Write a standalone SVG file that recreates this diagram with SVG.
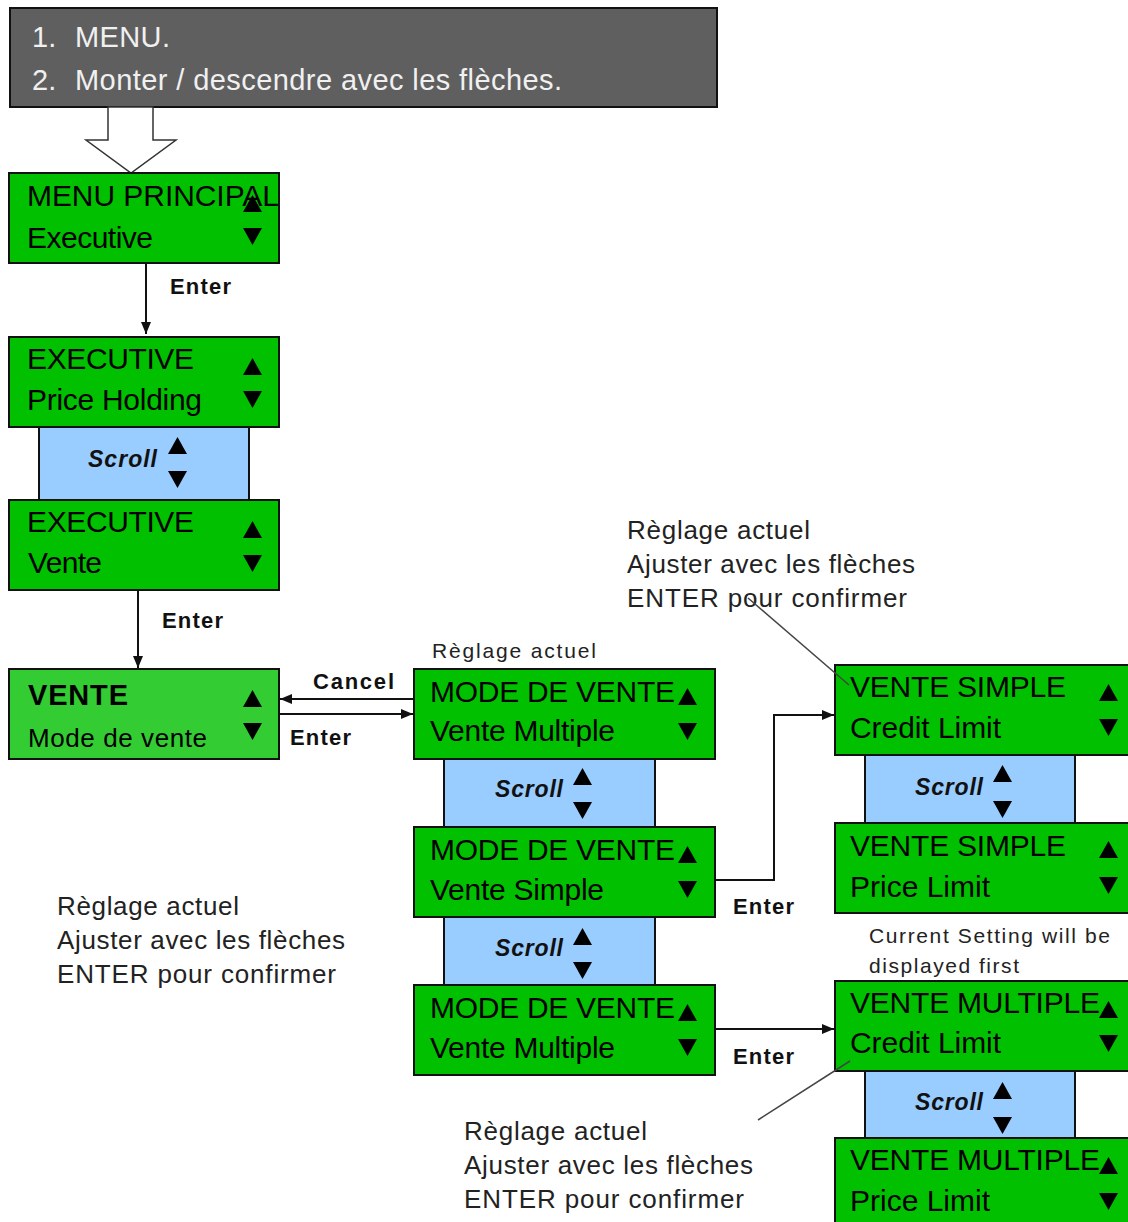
<svg xmlns="http://www.w3.org/2000/svg" width="1128" height="1222" viewBox="0 0 1128 1222">
<style>
.box{fill:#00c000;stroke:#111;stroke-width:2}
.boxl{fill:#33cc33;stroke:#111;stroke-width:2}
.scr{fill:#99ccff;stroke:#111;stroke-width:2}
.hdr{fill:#5f5f5f;stroke:#111;stroke-width:2}
.t{font-family:"Liberation Sans",Arial,sans-serif;font-size:30px;fill:#000}
.tm{font-family:"Liberation Sans",Arial,sans-serif;font-size:26px;fill:#000}
.tb{font-family:"Liberation Sans",Arial,sans-serif;font-size:29px;font-weight:bold;fill:#000}
.h{font-family:"Liberation Sans",Arial,sans-serif;font-size:29px;fill:#f0f0f0}
.s{font-family:"Liberation Sans",Arial,sans-serif;font-size:23px;font-weight:bold;font-style:italic;fill:#111}
.lbl{font-family:"Liberation Sans",Arial,sans-serif;font-size:22px;font-weight:bold;fill:#111}
.ann{font-family:"Liberation Sans",Arial,sans-serif;font-size:26px;fill:#222}
.sm{font-family:"Liberation Sans",Arial,sans-serif;font-size:21px;fill:#222}
.ln{fill:none;stroke:#111;stroke-width:2}
.ptr{fill:none;stroke:#444;stroke-width:1.5}
.tri{fill:#000}
</style>
<defs>
<path id="tu" class="tri" d="M0,17 L9.5,0 L19,17 Z"/>
<path id="td" class="tri" d="M0,0 L19,0 L9.5,17 Z"/>
<marker id="ah" viewBox="0 0 12 10" refX="12" refY="5" markerWidth="12" markerHeight="10" markerUnits="userSpaceOnUse" orient="auto">
<path d="M0,0 L12,5 L0,10 Z" fill="#111"/>
</marker>
</defs>

<g id="header">
<rect class="hdr" x="10" y="8" width="707" height="99"/>
<text class="h" x="32" y="47">1.</text>
<text class="h" x="75" y="47" textLength="95">MENU.</text>
<text class="h" x="32" y="90">2.</text>
<text class="h" x="75" y="90" textLength="487">Monter / descendre avec les flèches.</text>
<polygon points="108,107 108,140 86,140 131,173 176,140 153,140 153,107" fill="#fff" stroke="#333" stroke-width="1.5"/>
</g>

<g id="menu-principal">
<rect class="box" x="9" y="173" width="270" height="90"/>
<text class="t" x="27" y="206" textLength="252">MENU PRINCIPAL</text>
<text class="t" x="27" y="248" textLength="126">Executive</text>
<use href="#tu" x="243" y="195"/>
<use href="#td" x="243" y="228"/>
</g>

<g id="scroll-exec">
<rect class="scr" x="39" y="427" width="210" height="73"/>
<text class="s" x="88" y="467" textLength="69">Scroll</text>
<use href="#tu" x="168" y="437"/>
<use href="#td" x="168" y="471"/>
</g>

<g id="exec-price">
<rect class="box" x="9" y="337" width="270" height="90"/>
<text class="t" x="27" y="369" textLength="167">EXECUTIVE</text>
<text class="t" x="27" y="410" textLength="175">Price Holding</text>
<use href="#tu" x="243" y="358"/>
<use href="#td" x="243" y="391"/>
</g>

<g id="exec-vente">
<rect class="box" x="9" y="500" width="270" height="90"/>
<text class="t" x="27" y="532" textLength="167">EXECUTIVE</text>
<text class="t" x="28" y="573" textLength="74">Vente</text>
<use href="#tu" x="243" y="521"/>
<use href="#td" x="243" y="555"/>
</g>

<g id="vente">
<rect class="boxl" x="9" y="669" width="270" height="90"/>
<text class="tb" x="28" y="705" textLength="100">VENTE</text>
<text class="tm" x="28" y="747" textLength="179">Mode de vente</text>
<use href="#tu" x="243" y="690"/>
<use href="#td" x="243" y="723"/>
</g>

<g id="scroll-mode-1">
<rect class="scr" x="444" y="759" width="211" height="68"/>
<text class="s" x="495" y="797" textLength="68">Scroll</text>
<use href="#tu" x="573" y="768"/>
<use href="#td" x="573" y="802"/>
</g>
<g id="scroll-mode-2">
<rect class="scr" x="444" y="917" width="211" height="68"/>
<text class="s" x="495" y="956" textLength="68">Scroll</text>
<use href="#tu" x="573" y="928"/>
<use href="#td" x="573" y="962"/>
</g>

<g id="mode-1">
<rect class="box" x="414" y="669" width="301" height="90"/>
<text class="t" x="430" y="702" textLength="245">MODE DE VENTE</text>
<text class="t" x="430" y="741" textLength="185">Vente Multiple</text>
<use href="#tu" x="678" y="688"/>
<use href="#td" x="678" y="723"/>
</g>
<g id="mode-2">
<rect class="box" x="414" y="827" width="301" height="90"/>
<text class="t" x="430" y="860" textLength="245">MODE DE VENTE</text>
<text class="t" x="430" y="900" textLength="174">Vente Simple</text>
<use href="#tu" x="678" y="846"/>
<use href="#td" x="678" y="881"/>
</g>
<g id="mode-3">
<rect class="box" x="414" y="985" width="301" height="90"/>
<text class="t" x="430" y="1018" textLength="245">MODE DE VENTE</text>
<text class="t" x="430" y="1058" textLength="185">Vente Multiple</text>
<use href="#tu" x="678" y="1004"/>
<use href="#td" x="678" y="1039"/>
</g>

<g id="scroll-simple">
<rect class="scr" x="865" y="755" width="210" height="68"/>
<text class="s" x="915" y="795" textLength="68">Scroll</text>
<use href="#tu" x="993" y="765"/>
<use href="#td" x="993" y="801"/>
</g>
<g id="scroll-multiple">
<rect class="scr" x="865" y="1071" width="210" height="67"/>
<text class="s" x="915" y="1110" textLength="68">Scroll</text>
<use href="#tu" x="993" y="1082"/>
<use href="#td" x="993" y="1117"/>
</g>

<g id="simple-credit">
<rect class="box" x="835" y="665" width="301" height="90"/>
<text class="t" x="850" y="697" textLength="216">VENTE SIMPLE</text>
<text class="t" x="850" y="738" textLength="151">Credit Limit</text>
<use href="#tu" x="1099" y="684"/>
<use href="#td" x="1099" y="719"/>
</g>
<g id="simple-price">
<rect class="box" x="835" y="823" width="301" height="90"/>
<text class="t" x="850" y="856" textLength="216">VENTE SIMPLE</text>
<text class="t" x="850" y="897" textLength="140">Price Limit</text>
<use href="#tu" x="1099" y="841"/>
<use href="#td" x="1099" y="877"/>
</g>
<g id="multiple-credit">
<rect class="box" x="835" y="981" width="301" height="90"/>
<text class="t" x="850" y="1013" textLength="250">VENTE MULTIPLE</text>
<text class="t" x="850" y="1053" textLength="151">Credit Limit</text>
<use href="#tu" x="1099" y="1001"/>
<use href="#td" x="1099" y="1035"/>
</g>
<g id="multiple-price">
<rect class="box" x="835" y="1138" width="301" height="90"/>
<text class="t" x="850" y="1170" textLength="250">VENTE MULTIPLE</text>
<text class="t" x="850" y="1211" textLength="140">Price Limit</text>
<use href="#tu" x="1099" y="1157"/>
<use href="#td" x="1099" y="1193"/>
</g>

<g id="notes">
<text class="sm" x="432" y="658" textLength="164">Règlage actuel</text>
<text class="ann" x="627" y="539" textLength="183">Règlage actuel</text>
<text class="ann" x="627" y="573" textLength="288">Ajuster avec les flèches</text>
<text class="ann" x="627" y="607" textLength="280">ENTER pour confirmer</text>
<text class="ann" x="57" y="915" textLength="182">Règlage actuel</text>
<text class="ann" x="57" y="949" textLength="288">Ajuster avec les flèches</text>
<text class="ann" x="57" y="983" textLength="279">ENTER pour confirmer</text>
<text class="ann" x="464" y="1140" textLength="183">Règlage actuel</text>
<text class="ann" x="464" y="1174" textLength="289">Ajuster avec les flèches</text>
<text class="ann" x="464" y="1208" textLength="280">ENTER pour confirmer</text>
<text class="sm" x="869" y="943" textLength="241">Current Setting will be</text>
<text class="sm" x="869" y="973" textLength="150">displayed first</text>
</g>

<g id="connectors">
<line class="ln" x1="146" y1="263" x2="146" y2="334" marker-end="url(#ah)"/>
<text class="lbl" x="170" y="294" textLength="61">Enter</text>
<line class="ln" x1="138" y1="590" x2="138" y2="668" marker-end="url(#ah)"/>
<text class="lbl" x="162" y="628" textLength="61">Enter</text>
<line class="ln" x1="414" y1="699" x2="280" y2="699" marker-end="url(#ah)"/>
<text class="lbl" x="313" y="689" textLength="81">Cancel</text>
<line class="ln" x1="279" y1="714" x2="413" y2="714" marker-end="url(#ah)"/>
<text class="lbl" x="290" y="745" textLength="61">Enter</text>
<polyline class="ln" points="715,880 774,880 774,715 834,715" marker-end="url(#ah)"/>
<text class="lbl" x="733" y="914" textLength="61">Enter</text>
<line class="ln" x1="715" y1="1029" x2="834" y2="1029" marker-end="url(#ah)"/>
<text class="lbl" x="733" y="1064" textLength="61">Enter</text>
<line class="ptr" x1="748" y1="598" x2="849" y2="685"/>
<line class="ptr" x1="758" y1="1120" x2="850" y2="1061"/>
</g>
</svg>
